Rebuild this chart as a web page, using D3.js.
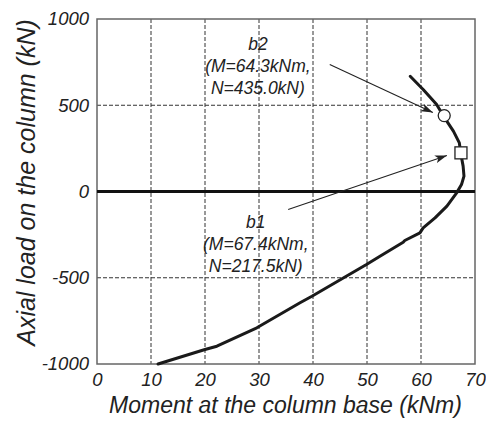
<!DOCTYPE html>
<html><head><meta charset="utf-8">
<script src="https://cdn.jsdelivr.net/npm/d3@7"></script>
<style>body{margin:0;background:#fff}svg{display:block}text{font-family:Arial,"Liberation Sans",sans-serif;font-style:italic;fill:#222}</style>
</head><body><div id="chart"></div>
<script>
const moment = [11.3, 20.0, 22.2, 29.6, 37.6, 39.8, 49.9, 52.4, 56.7, 57.0, 59.8, 60.4, 62.6, 64.8, 66.6, 67.5, 67.96, 67.8, 67.35, 67.1, 66.0, 64.1, 62.9, 60.4, 58.0];
const axial  = [-1000, -916, -897, -790, -645, -607, -423, -375, -294, -284, -240, -211, -153, -85, -8, 40, 89, 147, 224, 282, 350, 440, 504, 591, 668];
const xTicks = [0, 10, 20, 30, 40, 50, 60, 70];
const yTicks = [-1000, -500, 0, 500, 1000];
const markM = [64.3, 67.4];
const markN = [440, 224];
const labelLines = [["b2", "(M=64.3kNm,", "N=435.0kN)"], ["b1", "(M=67.4kNm,", "N=217.5kN)"]];
const labelM = [29.8, 29.4];
const labelN = [823, -209];
const arrowFromM = [43.1, 35.4], arrowFromN = [736, -104];
const arrowToM = [62.2, 64.8], arrowToN = [458, 209];

const W = 486, H = 422;
const svg = d3.select("#chart").append("svg").attr("width", W).attr("height", H);
const x = d3.scaleLinear().domain([0, 70]).range([97, 475]);
const y = d3.scaleLinear().domain([-1000, 1000]).range([364, 19]);

svg.append("defs").append("marker").attr("id", "ah").attr("viewBox", "0 0 12 8")
  .attr("refX", 12).attr("refY", 4).attr("markerWidth", 12).attr("markerHeight", 8)
  .attr("markerUnits", "userSpaceOnUse").attr("orient", "auto")
  .append("path").attr("d", "M0,0 L12,4 L0,8 L3,4 Z").attr("fill", "#222");

// grid
const g = svg.append("g");
g.selectAll(".vg").data(xTicks.filter(d => d > 0 && d < 70)).join("line")
  .attr("x1", d => x(d)).attr("x2", d => x(d)).attr("y1", y(1000)).attr("y2", y(-1000))
  .attr("stroke", "#333").attr("stroke-width", 1).attr("stroke-dasharray", "4,2");
g.selectAll(".hg").data(yTicks.filter(d => d !== 0 && Math.abs(d) < 1000)).join("line")
  .attr("x1", x(0)).attr("x2", x(70)).attr("y1", d => y(d)).attr("y2", d => y(d))
  .attr("stroke", "#333").attr("stroke-width", 1).attr("stroke-dasharray", "4,2");

// frame
svg.append("rect").attr("x", x(0)).attr("y", y(1000)).attr("width", x(70) - x(0)).attr("height", y(-1000) - y(1000))
  .attr("fill", "none").attr("stroke", "#666").attr("stroke-width", 1.5);
// zero line
svg.append("line").attr("x1", x(0)).attr("x2", x(70)).attr("y1", y(0)).attr("y2", y(0))
  .attr("stroke", "#111").attr("stroke-width", 3);

// axes
const xAxis = d3.axisBottom(x).tickValues(xTicks).tickFormat(d => String(d)).tickSize(0).tickPadding(9);
const yAxis = d3.axisLeft(y).tickValues(yTicks).tickFormat(d => String(d)).tickSize(0).tickPadding(8);
const gx = svg.append("g").attr("transform", `translate(0,${y(-1000)})`).call(xAxis);
const gy = svg.append("g").attr("transform", `translate(${x(0)},0)`).call(yAxis);
[gx, gy].forEach(a => { a.select(".domain").remove(); a.selectAll("text").style("font-size", "18.5px").style("font-family", "Arial, 'Liberation Sans', sans-serif").style("font-style", "italic").attr("fill", "#222"); });

// curve
const pts = moment.map((m, i) => [m, axial[i]]);
svg.append("path").datum(pts).attr("d", d3.line().x(d => x(d[0])).y(d => y(d[1])).curve(d3.curveLinear))
  .attr("fill", "none").attr("stroke", "#1a1a1a").attr("stroke-width", 3).attr("stroke-linejoin", "round").attr("stroke-linecap", "round");

// markers
svg.append("circle").attr("cx", x(markM[0])).attr("cy", y(markN[0])).attr("r", 6)
  .attr("fill", "#fff").attr("stroke", "#222").attr("stroke-width", 1.3);
svg.append("rect").attr("x", x(markM[1]) - 6).attr("y", y(markN[1]) - 6).attr("width", 12).attr("height", 12)
  .attr("fill", "#fff").attr("stroke", "#222").attr("stroke-width", 1.3);

// arrows
arrowFromM.forEach((m, i) => {
  svg.append("line").attr("x1", x(m)).attr("y1", y(arrowFromN[i])).attr("x2", x(arrowToM[i])).attr("y2", y(arrowToN[i]))
    .attr("stroke", "#222").attr("stroke-width", 1.1).attr("marker-end", "url(#ah)");
});

// labels
labelLines.forEach((lines, i) => {
  const t = svg.append("text").attr("text-anchor", "middle").style("font-size", "17.5px");
  lines.forEach((l, j) => t.append("tspan").attr("x", x(labelM[i])).attr("y", y(labelN[i]) + j * 22).text(l));
});

// axis titles
svg.append("text").attr("x", 285.5).attr("y", 413).attr("text-anchor", "middle").style("font-size", "23px")
  .text("Moment at the column base (kNm)");
svg.append("text").attr("transform", "translate(35,182.5) rotate(-90)").attr("text-anchor", "middle").style("font-size", "25px")
  .text("Axial load on the column (kN)");
</script></body></html>
